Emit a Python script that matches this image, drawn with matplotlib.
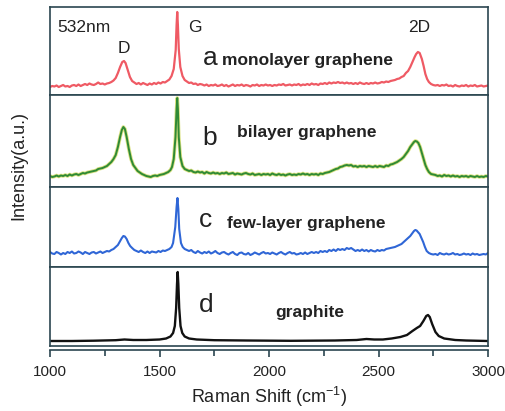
import numpy as np
import matplotlib
matplotlib.use("Agg")
import matplotlib.pyplot as plt
from matplotlib.ticker import MultipleLocator

plt.rcParams['font.family'] = ['Liberation Sans', 'DejaVu Sans']
plt.rcParams['mathtext.default'] = 'regular'

# Raman spectra as (wavenumber, intensity) pairs, one list per sample
mono = [(1000, 8), (1010, 9), (1020, 8.5), (1030, 9.5), (1040, 8), (1050, 9), (1060, 10), (1070, 8.5),
        (1080, 9), (1090, 8), (1100, 9.5), (1110, 10), (1120, 9), (1130, 10.5), (1140, 9), (1150, 10),
        (1160, 11), (1170, 10), (1180, 11.5), (1190, 10.5), (1200, 10), (1210, 11), (1220, 12.5),
        (1230, 11), (1240, 11.5), (1250, 10.5), (1260, 11.5), (1270, 12), (1280, 13), (1290, 14.5),
        (1300, 17), (1310, 22), (1320, 28), (1330, 33), (1338, 34), (1345, 32), (1355, 25), (1365, 18),
        (1375, 14), (1385, 12.5), (1395, 11), (1405, 12), (1415, 10.5), (1425, 12), (1435, 11), (1445, 10),
        (1455, 11.5), (1465, 10.5), (1475, 12), (1485, 11), (1495, 12.5), (1505, 11.5), (1515, 13),
        (1525, 12.5), (1535, 14), (1545, 15.5), (1555, 19), (1565, 26), (1574, 45), (1578, 70), (1581, 83),
        (1584, 70), (1588, 46), (1595, 28), (1605, 19), (1615, 15), (1625, 13.5), (1635, 12), (1645, 12.5),
        (1655, 11), (1665, 11.5), (1675, 10), (1685, 11), (1695, 10.5), (1705, 9.5), (1715, 10.5),
        (1725, 9), (1735, 10), (1745, 9.5), (1755, 10.5), (1765, 9), (1775, 9.5), (1785, 10.5), (1795, 9),
        (1805, 10), (1815, 8.5), (1825, 9.5), (1835, 10.5), (1845, 9), (1855, 10), (1865, 9.5),
        (1875, 10.5), (1885, 9), (1895, 10), (1905, 9.5), (1915, 8.5), (1925, 10), (1935, 9.5),
        (1945, 10.5), (1955, 9), (1965, 10), (1975, 9.5), (1985, 10.5), (1995, 9.5), (2005, 10), (2015, 9),
        (2025, 10), (2035, 9.5), (2045, 10.5), (2055, 10), (2065, 11), (2075, 9.5), (2085, 10),
        (2095, 10.5), (2105, 9.5), (2115, 10.5), (2125, 10), (2135, 11), (2145, 9.5), (2155, 10.5),
        (2165, 10), (2175, 11), (2185, 10), (2195, 11.5), (2205, 10.5), (2215, 11), (2225, 10),
        (2235, 11.5), (2245, 11), (2255, 12), (2265, 11), (2275, 12.5), (2285, 11.5), (2295, 12.5),
        (2305, 12), (2315, 13), (2325, 12), (2335, 12.5), (2345, 11.5), (2355, 12.5), (2365, 11.5),
        (2375, 12), (2385, 11), (2395, 12), (2405, 11), (2415, 12.5), (2425, 11.5), (2435, 11), (2445, 12),
        (2455, 11), (2465, 12), (2475, 11.5), (2485, 12.5), (2495, 11.5), (2505, 12), (2515, 13),
        (2525, 12.5), (2535, 13.5), (2545, 13), (2555, 14), (2565, 14.5), (2575, 15), (2585, 16),
        (2595, 16.5), (2605, 18), (2615, 19), (2625, 22), (2635, 24), (2645, 28), (2655, 33), (2665, 38),
        (2672, 41), (2680, 43), (2688, 42), (2698, 36), (2706, 29), (2714, 21), (2722, 16), (2730, 13),
        (2740, 11), (2750, 10), (2760, 9.5), (2770, 10), (2780, 9), (2790, 10), (2800, 9.5), (2810, 10.5),
        (2820, 9), (2830, 9.5), (2840, 8.5), (2850, 10), (2860, 9), (2870, 8.5), (2880, 9.5), (2890, 9),
        (2900, 10), (2910, 8.5), (2920, 9.5), (2930, 9), (2940, 10), (2950, 8.5), (2960, 9), (2970, 9.5),
        (2980, 8.5), (2990, 9), (3000, 9.5)]

bi = [(1000, 11), (1010, 10), (1020, 10.5), (1030, 11.5), (1040, 10.5), (1050, 11.5), (1060, 11),
      (1070, 12), (1080, 11), (1090, 12.5), (1100, 11.5), (1110, 12.5), (1120, 13), (1130, 12), (1140, 13),
      (1150, 14), (1160, 13.5), (1170, 14.5), (1180, 15), (1190, 15.5), (1200, 16), (1210, 16.5),
      (1220, 18), (1230, 18.5), (1240, 19), (1250, 20), (1260, 21), (1270, 23), (1280, 25), (1290, 28),
      (1300, 32), (1310, 40), (1320, 50), (1328, 57), (1335, 60), (1342, 58), (1350, 50), (1360, 38),
      (1370, 28), (1380, 22), (1390, 19), (1400, 16), (1410, 14.5), (1420, 13), (1430, 12), (1440, 11),
      (1450, 10.5), (1460, 10), (1470, 11), (1480, 11.5), (1490, 11), (1500, 12), (1510, 12.5), (1520, 13),
      (1530, 14), (1540, 15), (1550, 17), (1557, 20), (1565, 28), (1573, 50), (1578, 78), (1581, 89),
      (1584, 78), (1588, 50), (1595, 30), (1605, 21), (1615, 18), (1625, 17), (1635, 16), (1645, 16.5),
      (1655, 15), (1665, 14.5), (1675, 15.5), (1685, 14.5), (1695, 15), (1705, 13.5), (1715, 15),
      (1725, 14), (1735, 13.5), (1745, 14.5), (1755, 13.5), (1765, 14), (1775, 13), (1785, 14),
      (1795, 13.5), (1805, 14.5), (1815, 13), (1825, 13.5), (1835, 14), (1845, 12.5), (1855, 13.5),
      (1865, 13), (1875, 12.5), (1885, 13.5), (1895, 14), (1905, 13), (1915, 12.5), (1925, 13.5),
      (1935, 12), (1945, 12.5), (1955, 13), (1965, 12), (1975, 13), (1985, 12.5), (1995, 13), (2005, 12),
      (2015, 13.5), (2025, 12.5), (2035, 12), (2045, 13), (2055, 12), (2065, 12.5), (2075, 11.5),
      (2085, 12.5), (2095, 13), (2105, 12), (2115, 12.5), (2125, 12), (2135, 13), (2145, 12.5),
      (2155, 13.5), (2165, 12.5), (2175, 13), (2185, 12), (2195, 13), (2205, 12.5), (2215, 13), (2225, 12),
      (2235, 13.5), (2245, 13), (2255, 14), (2265, 14.5), (2275, 15), (2285, 16), (2295, 17), (2305, 18),
      (2315, 18.5), (2325, 20), (2335, 20.5), (2345, 21.5), (2355, 22), (2365, 21.5), (2375, 22),
      (2385, 20.5), (2395, 21), (2405, 20), (2415, 21), (2425, 20.5), (2435, 21), (2445, 20), (2455, 21),
      (2465, 20.5), (2475, 20), (2485, 21), (2495, 20), (2505, 21), (2515, 20.5), (2525, 20),
      (2535, 21.5), (2545, 21), (2555, 22.5), (2565, 23), (2575, 24), (2585, 25), (2595, 26.5), (2605, 28),
      (2615, 30), (2625, 33), (2635, 36), (2645, 40), (2655, 43), (2662, 45), (2668, 46), (2675, 45.5),
      (2682, 44), (2690, 40), (2698, 34), (2706, 28), (2714, 22), (2722, 18), (2730, 15), (2740, 13),
      (2750, 12.5), (2760, 12), (2770, 11), (2780, 11.5), (2790, 10.5), (2800, 12), (2810, 11),
      (2820, 11.5), (2830, 10.5), (2840, 11.5), (2850, 10.5), (2860, 11), (2870, 10), (2880, 11),
      (2890, 10.5), (2900, 11), (2910, 10), (2920, 11), (2930, 10.5), (2940, 10), (2950, 11), (2960, 10),
      (2970, 10.5), (2980, 10), (2990, 11), (3000, 10.5)]

few = [(1000, 15), (1010, 13.5), (1020, 13), (1030, 15), (1040, 14), (1050, 12.5), (1060, 14), (1070, 13),
       (1080, 15), (1090, 14), (1100, 15.5), (1110, 13.5), (1120, 14), (1130, 15.5), (1140, 14.5),
       (1150, 13), (1160, 15), (1170, 14), (1180, 13), (1190, 14.5), (1200, 15), (1210, 13.5),
       (1220, 14.5), (1230, 15.5), (1240, 14), (1250, 15), (1260, 16), (1270, 15.5), (1280, 17), (1290, 18),
       (1300, 20), (1310, 22), (1320, 26), (1328, 29), (1335, 31), (1342, 30.5), (1350, 28), (1358, 24),
       (1366, 21), (1375, 19), (1385, 17), (1395, 16), (1405, 15), (1415, 16.5), (1425, 15), (1435, 14),
       (1445, 15.5), (1455, 14), (1465, 15.5), (1475, 15), (1485, 14.5), (1495, 16), (1505, 15),
       (1515, 16.5), (1525, 16), (1535, 17), (1545, 18), (1555, 20), (1562, 24), (1572, 40), (1578, 60),
       (1582, 69), (1586, 58), (1590, 38), (1598, 24), (1606, 20), (1615, 18), (1625, 17), (1635, 16),
       (1645, 17), (1655, 15), (1665, 14), (1675, 16), (1685, 14.5), (1695, 13.5), (1705, 15), (1715, 14),
       (1725, 15.5), (1735, 13.5), (1745, 14.5), (1755, 16), (1765, 14), (1775, 13), (1785, 14.5),
       (1795, 15), (1805, 13.5), (1815, 12.5), (1825, 14), (1835, 15), (1845, 13), (1855, 12), (1865, 14),
       (1875, 14.5), (1885, 13), (1895, 12.5), (1905, 14), (1915, 12), (1925, 13), (1935, 14.5),
       (1945, 13.5), (1955, 12.5), (1965, 14), (1975, 15), (1985, 13.5), (1995, 14), (2005, 13),
       (2015, 14.5), (2025, 13.5), (2035, 12.5), (2045, 14), (2055, 15), (2065, 13.5), (2075, 12.5),
       (2085, 14), (2095, 15), (2105, 13.5), (2115, 14), (2125, 12.5), (2135, 13), (2145, 14), (2155, 13),
       (2165, 14.5), (2175, 13), (2185, 14), (2195, 15), (2205, 14), (2215, 15), (2225, 14), (2235, 16),
       (2245, 15), (2255, 16), (2265, 15), (2275, 17), (2285, 16), (2295, 17.5), (2305, 16), (2315, 18),
       (2325, 17), (2335, 18), (2345, 17), (2355, 19), (2365, 18), (2375, 19), (2385, 17.5), (2395, 16),
       (2405, 17), (2415, 16), (2425, 17.5), (2435, 16), (2445, 17), (2455, 15.5), (2465, 17), (2475, 16),
       (2485, 15.5), (2495, 17), (2505, 16), (2515, 17), (2525, 16.5), (2535, 18), (2545, 18.5),
       (2555, 19), (2565, 19.5), (2575, 20), (2585, 21), (2595, 22), (2605, 23), (2615, 25), (2625, 27),
       (2635, 29), (2645, 31), (2655, 34), (2662, 36), (2668, 37), (2674, 36.5), (2680, 35), (2688, 33),
       (2696, 29), (2704, 25), (2712, 20), (2720, 16), (2730, 14), (2740, 13), (2750, 12.5), (2760, 13),
       (2770, 12), (2780, 14), (2790, 13), (2800, 12.5), (2810, 13.5), (2820, 12.5), (2830, 13), (2840, 14),
       (2850, 12.5), (2860, 13), (2870, 12), (2880, 12.5), (2890, 13.5), (2900, 12.5), (2910, 13),
       (2920, 12), (2930, 13.5), (2940, 12.5), (2950, 13), (2960, 12), (2970, 12.5), (2980, 13),
       (2990, 12.5), (3000, 14)]

graphite = [(1000, 5), (1100, 5), (1200, 5.3), (1300, 5.8), (1340, 6.5), (1380, 6), (1440, 6), (1500, 6.5),
            (1530, 7.5), (1550, 9.5), (1562, 13), (1570, 20), (1576, 38), (1580, 62), (1583, 74),
            (1586, 62), (1590, 38), (1596, 20), (1604, 13), (1615, 9.5), (1635, 7.5), (1670, 6.5),
            (1750, 5.8), (1900, 5.5), (2100, 5.2), (2300, 5.5), (2400, 6), (2445, 7), (2480, 6.5),
            (2520, 6.5), (2560, 7.5), (2600, 9), (2630, 11), (2655, 15), (2675, 18), (2690, 20),
            (2705, 25), (2718, 30), (2726, 31), (2734, 29), (2745, 22), (2760, 14), (2775, 10),
            (2800, 7.5), (2850, 6), (2900, 5.5), (3000, 5)]

spectra = [mono, bi, few, graphite]
colors = ['#ef5a64', '#2f8a35', '#2f66d6', '#111111']
widths = [1.6, 1.4, 1.5, 1.7]
letters = ['a', 'b', 'c', 'd']
names = ['monolayer graphene', 'bilayer graphene', 'few-layer graphene', 'graphite']
panel_h = [88, 92, 80, 79]
# (letter x, letter baseline y, name x, name baseline y) in data units
label_pos = [(1700, 30, 1785, 30), (1697, 42, 1854, 50), (1680, 40, 1808, 39), (1680, 34, 2027, 29)]

spine_c = '#2b4650'
text_c = '#222222'

fig = plt.figure(figsize=(5.05, 4.11), dpi=100)
gs = fig.add_gridspec(4, 1, height_ratios=panel_h, hspace=0,
                      left=50/505, right=488/505, top=1-7/411, bottom=1-346/411)

axes = []
for i in range(4):
    ax = fig.add_subplot(gs[i])
    x, y = np.array(spectra[i]).T
    if i == 1:
        # yellowish fringe around the green trace
        ax.plot(x, y, color='#c9d44a', lw=2.6, alpha=0.7)
    ax.plot(x, y, color=colors[i], lw=widths[i])
    ax.set_xlim(1000, 3000)
    ax.set_ylim(0, panel_h[i])
    ax.set_yticks([])
    for s in ax.spines.values():
        s.set_color(spine_c)
        s.set_linewidth(1.2)
    lx, ly, nx, ny = label_pos[i]
    ax.text(lx, ly, letters[i], fontsize=19, color=text_c, va='baseline')
    ax.text(nx, ny, names[i], fontsize=12.5, fontweight='bold', color=text_c, va='baseline')
    if i < 3:
        ax.set_xticks([])
    axes.append(ax)

ax0 = axes[0]
ax0.text(1032, 67, '532nm', fontsize=12.5, color=text_c, va='center')
ax0.text(1338, 47, 'D', fontsize=12.5, color=text_c, ha='center', va='center')
ax0.text(1662, 68, 'G', fontsize=12.5, color=text_c, ha='center', va='center')
ax0.text(2685, 68, '2D', fontsize=12.5, color=text_c, ha='center', va='center')

axd = axes[3]
axd.spines['bottom'].set_position(('outward', 3))
axd.axhline(0, color=spine_c, lw=1.2, clip_on=False)
axd.xaxis.set_major_locator(MultipleLocator(500))
axd.xaxis.set_minor_locator(MultipleLocator(250))
axd.tick_params(axis='x', which='both', direction='out', color=spine_c, width=1.2,
                labelsize=11, labelcolor=text_c, pad=6)
axd.tick_params(axis='x', which='major', length=5)
axd.tick_params(axis='x', which='minor', length=4)
axd.set_xlabel('Raman Shift (cm$^{-1}$)', fontsize=13, color=text_c, labelpad=4)

fig.text(19/505, 1-165/411, 'Intensity(a.u.)', rotation=90, fontsize=13, color=text_c,
         ha='center', va='center')

fig.savefig('out.png', dpi=100)
